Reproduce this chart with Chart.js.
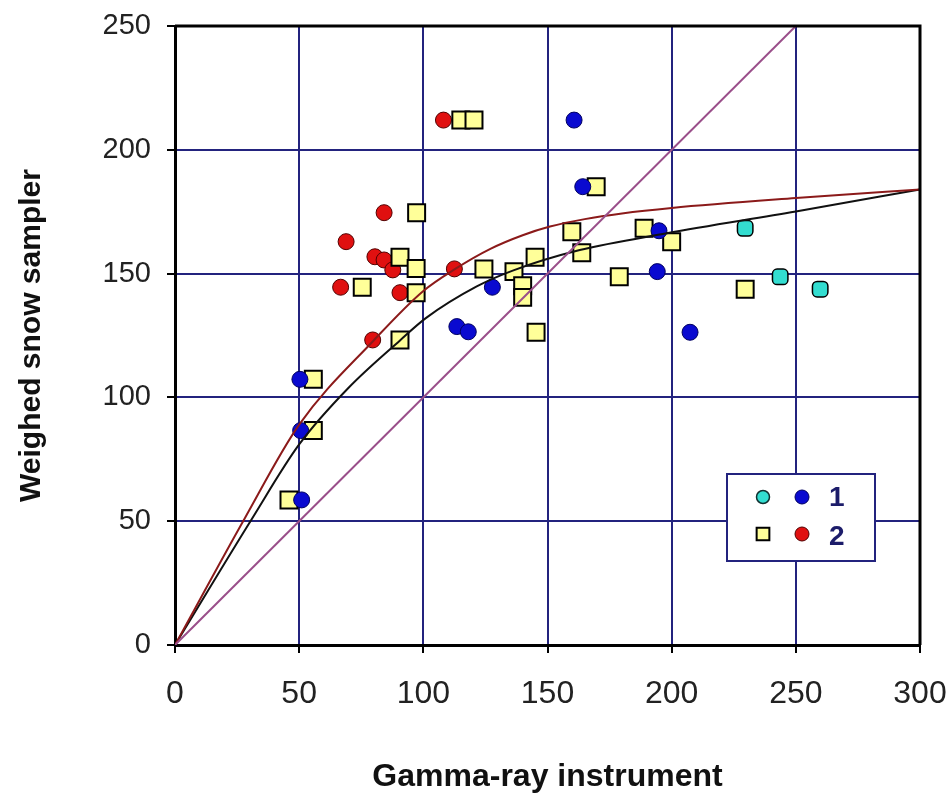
<!DOCTYPE html>
<html><head><meta charset="utf-8">
<script src="https://cdn.jsdelivr.net/npm/chart.js@4.4.1/dist/chart.umd.min.js"></script>
<style>html,body{margin:0;padding:0;background:#fff;}</style>
</head><body>
<canvas id="c" width="952" height="799"></canvas>
<script>
// ---- data ----
const xTickStep = 50, yTickStep = 50;
const gamma1Light = [229.6, 243.7, 259.8];
const snow1Light  = [168.3, 148.7, 143.7];
const gamma1Dark = [160.7, 164.2, 194.9, 194.2, 127.8, 113.5, 118.1, 207.4, 50.3, 50.6, 51.0];
const snow1Dark  = [212.0, 185.1, 167.3, 150.8, 144.5, 128.6, 126.5, 126.3, 107.3, 86.6, 58.6];
const gamma2Light = [115.1, 120.4, 97.3, 90.6, 97.1, 75.4, 97.1, 90.6, 55.7, 55.7, 45.9, 124.4, 136.5, 145.0, 140.0, 140.0, 145.4, 159.8, 163.8, 169.6, 188.9, 200.0, 178.9, 229.6];
const snow2Light  = [212.0, 212.0, 174.6, 156.6, 152.1, 144.5, 142.3, 123.2, 107.3, 86.6, 58.6, 151.9, 150.8, 156.6, 145.1, 140.4, 126.3, 166.9, 158.4, 185.1, 168.3, 162.9, 148.7, 143.7];
const gamma2Dark = [108.1, 112.5, 84.2, 68.9, 80.5, 84.2, 87.7, 66.7, 90.6, 79.6];
const snow2Dark  = [212.0, 151.9, 174.6, 162.9, 156.8, 155.5, 151.5, 144.5, 142.3, 123.2];
const fitRedX = [0, 28, 50, 80, 100, 113, 127, 140, 151, 165, 180, 200, 250, 300];
const fitRedY = [0, 51, 89, 123, 143, 152, 160, 165.5, 169, 172, 174.3, 176.5, 180.5, 184];
const fitBlackX = [0, 31, 50, 70, 90.6, 101, 121.5, 136, 163, 198, 250, 300];
const fitBlackY = [0, 51, 81, 104, 123, 132, 144.8, 151.2, 159.5, 166.3, 175.1, 184];
const oneToOneX = [0, 250];
const oneToOneY = [0, 250];

const pts = (xs, ys) => xs.map((x, i) => ({x, y: ys[i]}));
const navy = '#23237e';

const lineDs = (xs, ys, color) => ({
  data: pts(xs, ys), showLine: true, pointRadius: 0, borderColor: color,
  borderWidth: 2, cubicInterpolationMode: 'monotone', fill: false
});

const framePlugin = {
  id: 'frame',
  afterDraw(chart) {
    const {ctx, chartArea: a} = chart;
    ctx.save();
    ctx.strokeStyle = '#000';
    ctx.lineWidth = 3;
    ctx.beginPath();
    ctx.moveTo(a.left, a.top); ctx.lineTo(a.right, a.top); ctx.lineTo(a.right, a.bottom);
    ctx.stroke();
    ctx.restore();
  }
};

const legendPlugin = {
  id: 'customLegend',
  afterDraw(chart) {
    const ctx = chart.ctx;
    const bx = 727, by = 474, bw = 148, bh = 87;
    ctx.save();
    ctx.fillStyle = '#fff';
    ctx.fillRect(bx, by, bw, bh);
    ctx.strokeStyle = navy; ctx.lineWidth = 2;
    ctx.strokeRect(bx, by, bw, bh);
    const mk = (style, x, y, r, fill, stroke, bwid) => {
      ctx.fillStyle = fill; ctx.strokeStyle = stroke; ctx.lineWidth = bwid;
      Chart.helpers.drawPoint(ctx, {pointStyle: style, rotation: 0, radius: r, borderWidth: bwid}, x, y);
    };
    mk('circle', 763, 497, 6.5, '#33ddd0', '#103030', 1.5);
    mk('circle', 802, 497, 7, '#0a0ad0', '#000060', 1);
    mk('rect', 763, 534, 9, '#ffff99', '#000', 2);
    mk('circle', 802, 534, 7, '#e01010', '#500000', 1);
    ctx.fillStyle = '#1c1c6a';
    ctx.font = 'bold 28px "Liberation Sans", Arial, sans-serif';
    ctx.textBaseline = 'middle'; ctx.textAlign = 'left';
    ctx.fillText('1', 829, 498);
    ctx.fillText('2', 829, 537);
    ctx.restore();
  }
};

new Chart(document.getElementById('c'), {
  type: 'scatter',
  data: {
    datasets: [
      lineDs(oneToOneX, oneToOneY, '#9a4f8a'),
      lineDs(fitRedX, fitRedY, '#8b1a1a'),
      lineDs(fitBlackX, fitBlackY, '#111111'),
      {label: '1', data: pts(gamma1Dark, snow1Dark), pointStyle: 'circle', pointRadius: 8,
       backgroundColor: '#0a0ad0', borderColor: '#000060', borderWidth: 1},
      {label: '2', data: pts(gamma2Light, snow2Light), pointStyle: 'rect', pointRadius: 12,
       backgroundColor: '#ffff99', borderColor: '#000', borderWidth: 2},
      {label: '2', data: pts(gamma2Dark, snow2Dark), pointStyle: 'circle', pointRadius: 8,
       backgroundColor: '#e01010', borderColor: '#500000', borderWidth: 1},
      {label: '1', data: pts(gamma1Light, snow1Light), pointStyle: 'rectRounded', pointRadius: 9,
       backgroundColor: '#33ddd0', borderColor: '#000', borderWidth: 1.5}
    ]
  },
  options: {
    responsive: false,
    animation: false,
    events: [],
    layout: {padding: {left: 0, right: 32, top: 26, bottom: 0}},
    plugins: {legend: {display: false}, tooltip: {enabled: false}},
    scales: {
      x: {
        type: 'linear', min: 0, max: 300,
        ticks: {stepSize: xTickStep, padding: 22, color: '#222',
                font: {family: '"Liberation Sans Narrow", "Liberation Sans", Arial, sans-serif', size: 32}},
        grid: {color: navy, lineWidth: 2, tickColor: '#000', tickLength: 8, tickWidth: 2},
        border: {color: '#000', width: 3},
        title: {display: true, text: 'Gamma-ray instrument', color: '#111',
                font: {family: '"Liberation Sans", Arial, sans-serif', size: 32, weight: 'bold'},
                padding: {top: 0, bottom: 3}},
        afterFit(s) { s.height = 154; s.paddingLeft = 0; s.paddingRight = 0; }
      },
      y: {
        type: 'linear', min: 0, max: 250,
        ticks: {stepSize: yTickStep, padding: 16, color: '#222',
                font: {family: '"Liberation Sans", Arial, sans-serif', size: 29}},
        grid: {color: navy, lineWidth: 2, tickColor: '#000', tickLength: 8, tickWidth: 2},
        border: {color: '#000', width: 3},
        title: {display: true, text: 'Weighed snow sampler', color: '#111',
                font: {family: '"Liberation Sans", Arial, sans-serif', size: 30, weight: 'bold'},
                padding: {top: 14, bottom: 0}},
        afterFit(s) { s.width = 175; s.paddingTop = 0; s.paddingBottom = 0; }
      }
    }
  },
  plugins: [framePlugin, legendPlugin]
});
</script>
</body></html>
